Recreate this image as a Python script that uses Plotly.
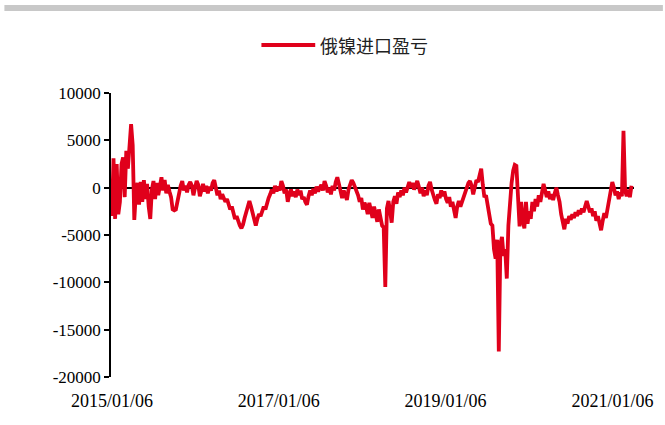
import pandas as pd
import plotly.graph_objects as go

# ---------------- data ----------------
series_name = "俄镍进口盈亏"
start_date = "2015-01-06"          # first observation, weekly sampling
profit = [
    -3000, 3100, -3300, 2500, -2800, -1500, 2500, 3200, -1000, 3900,
    2000, 5000, 6700, 4500, -3400, -500, 500, -1800, 600, -1500,
    800, -1200, 400, -2000, -3300, -200, 700, -1200, 500, -800,
    400, 1100, -300, 800, -600, 300, -400, -1000, -2300, -2400,
    -2300, -1500, -300, 200, 700, -300, 200, -500, 300, 600,
    200, -800, 0, 700, 300, -900, -300, 400, -400, 200,
    -600, 100, -300, 500, 800, 100, -800, -300, -1200, -700,
    -1000, -1500, -1200, -1800, -2300, -2000, -2800, -3300, -3000, -3700,
    -4000, -4300, -3900, -3200, -2600, -2000, -1400, -2000, -2600, -3500,
    -4000, -3300, -2800, -3000, -2400, -2000, -2300, -1600, -1100, -700,
    -200, -600, 200, -400, 100, -300, 700, 200, -600, -200,
    -1500, -700, -200, -900, -400, -1000, -200, -800, -300, -1200,
    -1000, -1500, -1800, -900, -300, -800, -100, -600, 100, -400,
    -100, 300, -300, 700, 200, -500, 0, -700, 200, -300,
    600, 1100, 400, -400, -1100, -300, -900, -1300, -200, 500,
    800, 500, 100, -400, -800, -1500, -1100, -2300, -1600, -2000,
    -2800, -1600, -2400, -3200, -2000, -2700, -3600, -2300, -3300, -4000,
    -4200, -10500, -2200, -1400, -2500, -3700, -1500, -900, -1700, -500,
    -1000, -300, -800, 0, -500, 200, 600, 0, 500, -200,
    300, 700, 100, -600, 0, -900, -300, -800, 200, 600,
    -200, -900, -1300, -1700, -700, -1100, -300, -900, -400, -1200,
    -1600, -1000, -2000, -1500, -2300, -3200, -2000, -1400, -2000, -1500,
    -1000, -300, 200, 500, 700, 200, -700, 300, 800, 600,
    1500, 2000, 300, -1000, -800, -2000, -2700, -3800, -4000, -6500,
    -7500, -5500, -17300, -6000, -5200, -7200, -6500, -9600, -4000, -1500,
    500, 1800, 2400, 2300, -2000, -4100, -1500, -3500, -4300, -1500,
    -3800, -2500, -3300, -1500, -2500, -1200, -2000, -800, -1500, -500,
    400, -300, -1000, -400, -1200, -700, -1300, -600, 0, -800,
    -1500, -2800, -3800, -4400, -3300, -3800, -3000, -3400, -2800, -3200,
    -2600, -3000, -2400, -2800, -2200, -2600, -2000, -1400, -2000, -2600,
    -2200, -3000, -2500, -3500, -3000, -3800, -4500, -3500, -2700, -3200,
    -2200, -1200, -200, 600, 0, -800, -400, -1200, -500, -900,
    6000, -300, -900, -200, -1000, 200,
]
dates = pd.date_range(start_date, periods=len(profit), freq="7D")

x_tick_vals = ["2015-01-06", "2017-01-06", "2019-01-06", "2021-01-06"]
x_tick_text = ["2015/01/06", "2017/01/06", "2019/01/06", "2021/01/06"]
y_tick_vals = [10000, 5000, 0, -5000, -10000, -15000, -20000]
y_tick_text = ["10000", "5000", "0", "-5000", "-10000", "-15000", "-20000"]

# ---------------- layout geometry ----------------
W, H = 665, 425
L, R, T, B = 111, 636, 93, 377   # plot-area edges in pixels
RED = "#E0001B"

def px_x(p):
    return (p - L) / (R - L)

def px_y(p):
    return (B - p) / (B - T)

fig = go.Figure()
fig.add_trace(go.Scatter(
    x=dates, y=profit, mode="lines", name=series_name,
    line=dict(color=RED, width=3.8), showlegend=False,
))

# top grey band
fig.add_shape(type="rect", xref="paper", yref="paper",
              x0=px_x(4), x1=px_x(665), y0=px_y(11), y1=px_y(5),
              fillcolor="#C8C8C8", line=dict(width=0), layer="below")
# legend (drawn by hand to match line sample length)
fig.add_shape(type="line", xref="paper", yref="paper",
              x0=px_x(262), x1=px_x(316), y0=px_y(45), y1=px_y(45),
              line=dict(color=RED, width=4))
fig.add_annotation(text=series_name, xref="paper", yref="paper",
                   x=px_x(319), y=px_y(45), xanchor="left", yanchor="middle",
                   showarrow=False,
                   font=dict(family="Noto Sans CJK SC", size=18, color="#222222"))

fig.update_layout(
    width=W, height=H,
    margin=dict(l=L, r=W - R, t=T, b=H - B, pad=0),
    paper_bgcolor="white", plot_bgcolor="white",
    xaxis=dict(
        type="date", range=["2015-01-02", "2021-04-10"],
        tickmode="array", tickvals=x_tick_vals, ticktext=x_tick_text,
        ticks="", showline=False, showgrid=False, zeroline=False,
        tickfont=dict(family="Liberation Serif", size=18, color="black"),
        ticklabelstandoff=11,
    ),
    yaxis=dict(
        range=[-20000, 10000],
        tickmode="array", tickvals=y_tick_vals, ticktext=y_tick_text,
        ticks="outside", ticklen=5, tickwidth=1.5, tickcolor="black",
        showline=True, linecolor="black", linewidth=1.5,
        showgrid=False, zeroline=True, zerolinecolor="black", zerolinewidth=1.5,
        tickfont=dict(family="Liberation Serif", size=17, color="black"),
    ),
)

fig.write_html("out.html",
               config={"displayModeBar": False},
               post_script="document.body.style.margin='0';document.body.style.overflow='hidden';")
